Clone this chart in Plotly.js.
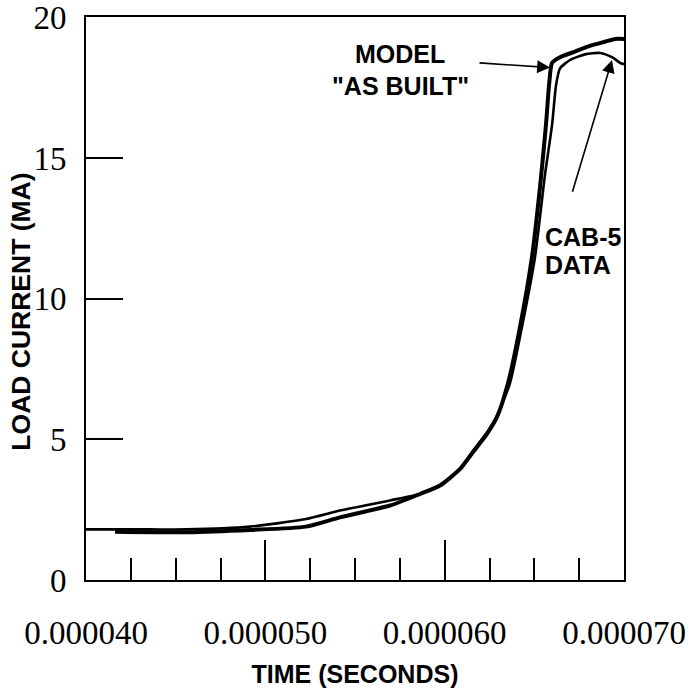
<!DOCTYPE html>
<html>
<head>
<meta charset="utf-8">
<script src="https://cdn.plot.ly/plotly-3.0.1.min.js"></script>
<style>html,body{margin:0;padding:0;background:#fff}#chart{width:700px;height:691px}</style>
</head>
<body>
<div id="chart"></div>
<script>
// Time in seconds, load current in MA
const modelTime = [4.162e-5, 4.558e-5, 4.914e-5, 5.227e-5, 5.416e-5, 5.695e-5, 5.862e-5, 5.974e-5, 6.086e-5, 6.158e-5, 6.236e-5, 6.292e-5, 6.353e-5, 6.420e-5, 6.487e-5, 6.532e-5, 6.565e-5, 6.582e-5, 6.599e-5, 6.643e-5, 6.727e-5, 6.810e-5, 6.894e-5, 6.950e-5, 7.000e-5];
const modelCurrent = [1.72, 1.70, 1.78, 1.90, 2.23, 2.65, 3.06, 3.36, 3.95, 4.55, 5.20, 5.80, 7.00, 9.00, 11.5, 14.0, 16.2, 17.6, 18.4, 18.6, 18.8, 19.0, 19.15, 19.25, 19.25];

const dataTime = [4.000e-5, 4.357e-5, 4.558e-5, 4.914e-5, 5.227e-5, 5.416e-5, 5.695e-5, 5.862e-5, 5.974e-5, 6.086e-5, 6.158e-5, 6.236e-5, 6.292e-5, 6.364e-5, 6.431e-5, 6.504e-5, 6.559e-5, 6.599e-5, 6.621e-5, 6.643e-5, 6.699e-5, 6.782e-5, 6.866e-5, 6.933e-5, 6.978e-5, 7.000e-5];
const dataCurrent = [1.80, 1.80, 1.80, 1.90, 2.17, 2.47, 2.83, 3.06, 3.36, 3.95, 4.60, 5.25, 5.85, 7.00, 9.00, 11.5, 14.4, 16.2, 17.6, 18.2, 18.5, 18.7, 18.75, 18.6, 18.4, 18.35];

const xTickVals = [4e-5, 5e-5, 6e-5, 7e-5];
const xTickText = ['0.000040', '0.000050', '0.000060', '0.000070'];
const yTickVals = [0, 5, 10, 15, 20];
const yTickText = ['0', '5', '10', '15', '20'];

const labelFont = {family: 'Liberation Sans, Arial, sans-serif', size: 25, color: '#000', weight: 'bold'};
const yTitleFont = {family: 'Liberation Sans, Arial, sans-serif', size: 26.5, color: '#000', weight: 'bold'};
const tickFont = {family: 'Liberation Serif, Times New Roman, serif', size: 33, color: '#000'};

const traces = [
  {x: modelTime, y: modelCurrent, mode: 'lines', name: 'MODEL "AS BUILT"',
   line: {color: '#000', width: 4, shape: 'spline', smoothing: 0.6}},
  {x: dataTime, y: dataCurrent, mode: 'lines', name: 'CAB-5 DATA',
   line: {color: '#000', width: 2.6, shape: 'spline', smoothing: 0.6}}
];

const layout = {
  width: 700, height: 691,
  margin: {l: 86, r: 76, t: 17, b: 111},
  paper_bgcolor: '#fff', plot_bgcolor: '#fff',
  showlegend: false,
  xaxis: {
    range: [4e-5, 7e-5], tickvals: xTickVals, ticktext: xTickText,
    ticks: 'inside', ticklen: 40, tickwidth: 2, tickcolor: '#000',
    minor: {dtick: 2.5e-6, tick0: 4e-5, ticks: 'inside', ticklen: 22, tickwidth: 2, tickcolor: '#000', showgrid: false},
    showline: true, linecolor: '#000', linewidth: 2, mirror: true,
    showgrid: false, zeroline: false, tickfont: tickFont, ticklabelstandoff: 22,
    ticklabeloverflow: 'allow',
    title: {text: 'TIME (SECONDS)', font: labelFont, standoff: 16}
  },
  yaxis: {
    range: [0, 20.03], tickvals: yTickVals, ticktext: yTickText,
    ticks: 'inside', ticklen: 37, tickwidth: 2, tickcolor: '#000',
    showline: true, linecolor: '#000', linewidth: 2, mirror: true,
    showgrid: false, zeroline: false, tickfont: tickFont, ticklabelstandoff: 11,
    ticklabeloverflow: 'allow'
  },
  annotations: [
    {x: -0.1215, y: 0.476, xref: 'paper', yref: 'paper', xanchor: 'center', yanchor: 'middle',
     textangle: -90, text: 'LOAD CURRENT (MA)', showarrow: false, font: yTitleFont},
    {x: 5.751e-5, y: 18.72, xref: 'x', yref: 'y', text: 'MODEL', showarrow: false, font: labelFont},
    {x: 5.751e-5, y: 17.58, xref: 'x', yref: 'y', text: '"AS BUILT"', showarrow: false, font: labelFont},
    {x: 6.548e-5, y: 12.2, xref: 'x', yref: 'y', xanchor: 'left', text: 'CAB-5', showarrow: false, font: labelFont},
    {x: 6.548e-5, y: 11.2, xref: 'x', yref: 'y', xanchor: 'left', text: 'DATA', showarrow: false, font: labelFont},
    {x: 6.587e-5, y: 18.23, xref: 'x', yref: 'y', ax: 6.186e-5, ay: 18.40, axref: 'x', ayref: 'y',
     text: '', showarrow: true, arrowhead: 2, arrowsize: 1.6, arrowwidth: 1.6, arrowcolor: '#000', standoff: 0},
    {x: 6.933e-5, y: 18.5, xref: 'x', yref: 'y', ax: 6.71e-5, ay: 13.76, axref: 'x', ayref: 'y',
     text: '', showarrow: true, arrowhead: 2, arrowsize: 1.6, arrowwidth: 1.6, arrowcolor: '#000', standoff: 0}
  ]
};

Plotly.newPlot('chart', traces, layout, {displayModeBar: false, staticPlot: true});
</script>
</body>
</html>
